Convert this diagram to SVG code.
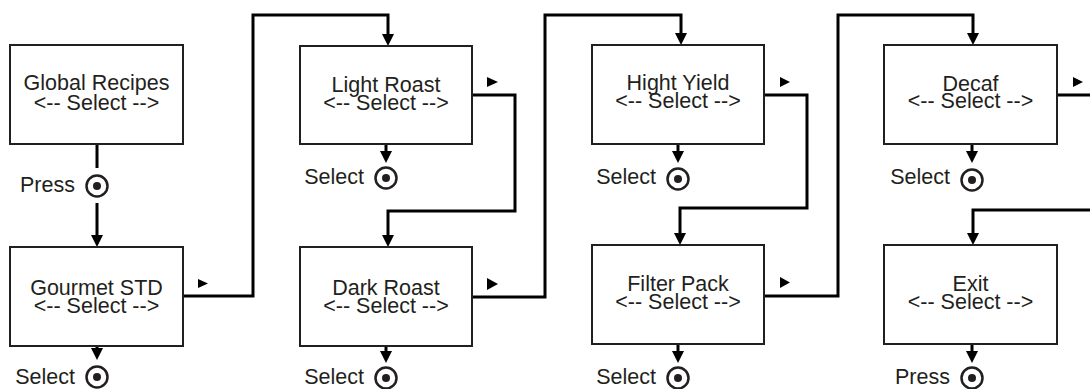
<svg xmlns="http://www.w3.org/2000/svg" width="1090" height="389" viewBox="0 0 1090 389">
<style>
.box{fill:#fff;stroke:#231f20;stroke-width:2}
.t{font-family:"Liberation Sans",Arial,sans-serif;font-size:21.5px;fill:#231f20;text-anchor:middle}
.l{font-family:"Liberation Sans",Arial,sans-serif;font-size:21.5px;fill:#231f20;text-anchor:end}
.c{fill:none;stroke:#000;stroke-width:3}
.ca{fill:none;stroke:#000;stroke-width:3;marker-end:url(#ah)}
.ring{fill:#fff;stroke:#231f20;stroke-width:2.5}
.dot{fill:#231f20}
.tri{fill:#000}
</style>
<defs>
<marker id="ah" viewBox="0 0 12 12" markerUnits="userSpaceOnUse" markerWidth="12" markerHeight="12" refX="4" refY="6" orient="auto">
<path d="M0,0 L12,6 L0,12 z" fill="#000"/>
</marker>
</defs>
<g id="connectors">
<path class="c" d="M97,144 V168"/>
<path class="ca" d="M97,203 V239"/>
<path class="ca" d="M183,296 H253 V15 H388 V38"/>
<path class="ca" d="M472,95 H515 V211 H388 V239"/>
<path class="ca" d="M472,297 H545 V15 H681 V37"/>
<path class="ca" d="M764,95 H807 V208 H680 V237"/>
<path class="ca" d="M764,296 H838 V15 H973 V37"/>
<path class="c" d="M1057,95 H1090"/>
<path class="ca" d="M1090,210 H973 V237"/>
<path class="ca" d="M97,346 V352"/>
<path class="ca" d="M386,144 V155"/>
<path class="ca" d="M386,346 V355"/>
<path class="ca" d="M678,144 V155"/>
<path class="ca" d="M678,344 V355"/>
<path class="ca" d="M972,144 V155"/>
<path class="ca" d="M972,344 V355"/>
<polygon class="tri" points="198,279 208,283.5 198,288"/>
<polygon class="tri" points="487,77 498,82 487,87"/>
<polygon class="tri" points="487,278 498,284 487,290"/>
<polygon class="tri" points="780,77 790,82 780,87"/>
<polygon class="tri" points="780,277 790,282.5 780,288"/>
<polygon class="tri" points="1073,77 1083,82 1073,87"/>
</g>
<g id="global-recipes">
<rect class="box" x="10" y="45" width="173" height="99"/>
<text class="t" x="96.5" y="90">Global Recipes</text>
<text class="t" x="96.5" y="110">&lt;-- Select --&gt;</text>
</g>
<g id="press-1">
<text class="l" x="75" y="192">Press</text>
<circle class="ring" cx="97" cy="186" r="10.5"/>
<circle class="dot" cx="97" cy="186" r="4"/>
</g>
<g id="gourmet-std">
<rect class="box" x="10" y="247" width="173" height="99"/>
<text class="t" x="96.5" y="295">Gourmet STD</text>
<text class="t" x="96.5" y="313">&lt;-- Select --&gt;</text>
</g>
<g id="select-1">
<text class="l" x="75" y="384">Select</text>
<circle class="ring" cx="97" cy="377" r="10.5"/>
<circle class="dot" cx="97" cy="377" r="4"/>
</g>
<g id="light-roast">
<rect class="box" x="300" y="46" width="172" height="98"/>
<text class="t" x="386" y="92">Light Roast</text>
<text class="t" x="386" y="110">&lt;-- Select --&gt;</text>
</g>
<g id="select-2">
<text class="l" x="364" y="184">Select</text>
<circle class="ring" cx="386" cy="178" r="10.5"/>
<circle class="dot" cx="386" cy="178" r="4"/>
</g>
<g id="dark-roast">
<rect class="box" x="300" y="247" width="172" height="99"/>
<text class="t" x="386" y="295">Dark Roast</text>
<text class="t" x="386" y="313">&lt;-- Select --&gt;</text>
</g>
<g id="select-3">
<text class="l" x="364" y="384">Select</text>
<circle class="ring" cx="386" cy="378" r="10.5"/>
<circle class="dot" cx="386" cy="378" r="4"/>
</g>
<g id="hight-yield">
<rect class="box" x="592" y="45" width="172" height="99"/>
<text class="t" x="678" y="90">Hight Yield</text>
<text class="t" x="678" y="108">&lt;-- Select --&gt;</text>
</g>
<g id="select-4">
<text class="l" x="656" y="184">Select</text>
<circle class="ring" cx="678" cy="179" r="10.5"/>
<circle class="dot" cx="678" cy="179" r="4"/>
</g>
<g id="filter-pack">
<rect class="box" x="592" y="245" width="172" height="99"/>
<text class="t" x="678" y="291">Filter Pack</text>
<text class="t" x="678" y="309">&lt;-- Select --&gt;</text>
</g>
<g id="select-5">
<text class="l" x="656" y="384">Select</text>
<circle class="ring" cx="678" cy="378" r="10.5"/>
<circle class="dot" cx="678" cy="378" r="4"/>
</g>
<g id="decaf">
<rect class="box" x="884" y="45" width="173" height="99"/>
<text class="t" x="970.5" y="91">Decaf</text>
<text class="t" x="970.5" y="108">&lt;-- Select --&gt;</text>
</g>
<g id="select-6">
<text class="l" x="950" y="184">Select</text>
<circle class="ring" cx="972" cy="180" r="10.5"/>
<circle class="dot" cx="972" cy="180" r="4"/>
</g>
<g id="exit">
<rect class="box" x="884" y="245" width="173" height="99"/>
<text class="t" x="970.5" y="291">Exit</text>
<text class="t" x="970.5" y="309">&lt;-- Select --&gt;</text>
</g>
<g id="press-2">
<text class="l" x="950" y="384">Press</text>
<circle class="ring" cx="972" cy="378" r="10.5"/>
<circle class="dot" cx="972" cy="378" r="4"/>
</g>
</svg>
